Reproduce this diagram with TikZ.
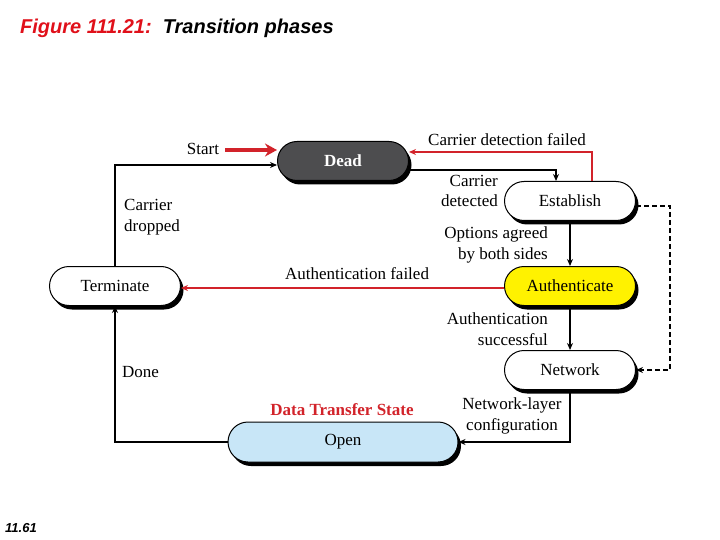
\documentclass[tikz,border=0pt]{standalone}
\usepackage{fontspec}
\setmainfont{Liberation Serif}
\newfontfamily\arialfont{Liberation Sans}
\usetikzlibrary{arrows.meta, positioning, shadows}
\definecolor{pppred}{HTML}{D2232A}
\definecolor{deadgray}{HTML}{4D4D4F}
\definecolor{authyellow}{HTML}{FFF200}
\definecolor{openblue}{HTML}{C8E6F7}
\definecolor{titlered}{HTML}{E0101A}

\tikzset{
    phase/.style={draw=black, line width=1pt, fill=white, rounded corners=19.5pt,
        minimum width=131pt, minimum height=39pt, font=\fontsize{17}{20}\selectfont,
        drop shadow={shadow xshift=3pt, shadow yshift=-4pt, fill=black, opacity=1}},
    lbl/.style={font=\fontsize{17}{20.5}\selectfont, inner sep=0pt},
    conn/.style={line width=1.3pt, -{Stealth[length=7pt, width=6pt]}},
    failconn/.style={pppred, line width=1.2pt, -{Stealth[length=7pt, width=6pt]}},
}

\begin{document}
\begin{tikzpicture}[x=1pt, y=-1pt]
    \useasboundingbox (0,0) rectangle (720,540);

    % title
    \node[anchor=base west, inner sep=0pt, font=\arialfont\fontsize{20}{22}\selectfont\bfseries\itshape] (title) at (20,34)
        {\textcolor{titlered}{Figure 111.21:}\ \ Transition phases};
    \node[anchor=base west, inner sep=0pt, font=\arialfont\fontsize{13}{14}\selectfont\bfseries\itshape] (pageno) at (5,532) {11.61};

    % phases
    \node[phase, fill=deadgray, text=white, font=\fontsize{17}{20}\selectfont\bfseries] (dead) at (343,161) {Dead};
    \node[phase] (establish) at (570,201) {Establish};
    \node[phase] (terminate) at (115,286) {Terminate};
    \node[phase, fill=authyellow] (authenticate) at (570,286) {Authenticate};
    \node[phase] (network) at (570,370) {Network};
    \node[phase, fill=openblue, minimum width=230pt, minimum height=40pt, rounded corners=20pt] (open) at (343,442) {Open};

    % start arrow
    \coordinate (start) at (225,150);
    \draw[pppred, line width=4pt, -{Stealth[length=12pt, width=13pt]}] (start) -- ([yshift=11pt]dead.west);
    \node[lbl] (startlbl) at (203,149) {Start};

    % transitions
    \draw[conn] (terminate.north) |- ([yshift=-4pt]dead.west);
    \draw[failconn] ([xshift=22pt]establish.north) |- ([yshift=9pt]dead.east);
    \draw[conn] ([yshift=-9pt]dead.east) -| ([xshift=-14pt]establish.north);
    \draw[conn] (establish.south) -- (authenticate.north);
    \draw[failconn] ([yshift=-2pt]authenticate.west) -- ([yshift=-2pt]terminate.east);
    \draw[conn] (authenticate.south) -- (network.north);
    \draw[conn, dash pattern=on 5pt off 3pt, line width=1.5pt] ([yshift=-5pt]establish.east) -- ++(34,0) |- (network.east);
    \draw[conn] (network.south) |- (open.east);
    \draw[conn] (open.west) -| (terminate.south);

    % labels
    \node[lbl, anchor=west, align=left] (droppedlbl) at (124,217) {Carrier\\dropped};
    \node[lbl] (detfailedlbl) at (507,140) {Carrier detection failed};
    \node[lbl, anchor=east, align=right] (detectedlbl) at (498,191) {Carrier\\detected};
    \node[lbl, anchor=east, align=right] (agreedlbl) at (548,245) {Options agreed\\by both sides};
    \node[lbl] (authfailedlbl) at (357,274) {Authentication failed};
    \node[lbl, anchor=east, align=right] (authoklbl) at (548,329) {Authentication\\successful};
    \node[lbl, anchor=west] (donelbl) at (122,372) {Done};
    \node[lbl, align=center] (configlbl) at (512,416) {Network-layer\\configuration};
    \node[lbl, text=pppred, font=\fontsize{17}{20}\selectfont\bfseries] (datalbl) at (342,410) {Data Transfer State};
\end{tikzpicture}
\end{document}
